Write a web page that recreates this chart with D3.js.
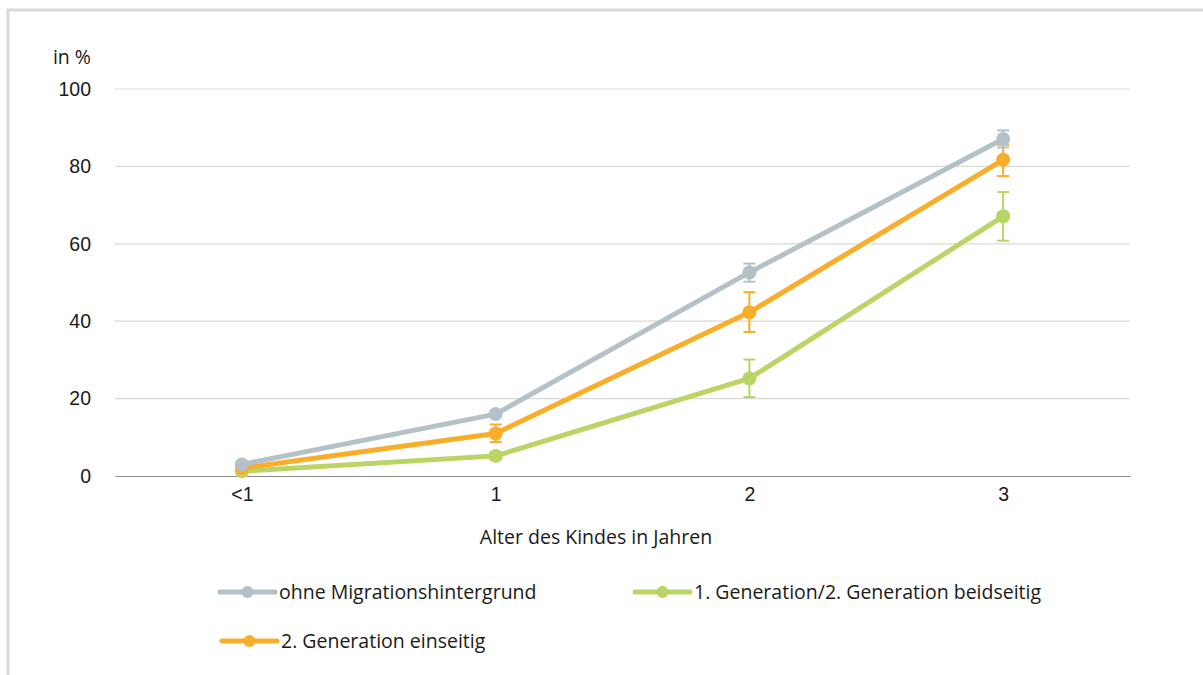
<!DOCTYPE html>
<html><head><meta charset="utf-8">
<script src="https://cdn.jsdelivr.net/npm/d3@7"></script>
<style>body{margin:0;background:#fff}svg{display:block;font-family:"Open Sans","Noto Sans",sans-serif}</style>
</head><body>
<svg id="c" width="1203" height="675"></svg>
<script>
const categories = ["<1", "1", "2", "3"];
const yTicks = [0, 20, 40, 60, 80, 100];
const seriesNames = ["ohne Migrationshintergrund", "1. Generation/2. Generation beidseitig", "2. Generation einseitig"];
const ohneValues = [3, 16, 52.6, 87.1];
const ohneLow = [2.4, 15.3, 50.2, 84.9];
const ohneHigh = [3.6, 16.7, 54.9, 89.3];
const gen1Values = [1.2, 5.2, 25.2, 67.1];
const gen1Low = [0.8, 4.2, 20.4, 60.8];
const gen1High = [1.6, 6.2, 30.1, 73.4];
const gen2Values = [2, 11, 42.3, 81.7];
const gen2Low = [1.4, 8.8, 37.2, 77.5];
const gen2High = [2.6, 13.3, 47.5, 85.6];

const colors = ["#b4c1c6", "#bad465", "#f9ae29"];
const series = [
  {name: seriesNames[0], v: ohneValues, lo: ohneLow, hi: ohneHigh, color: colors[0]},
  {name: seriesNames[1], v: gen1Values, lo: gen1Low, hi: gen1High, color: colors[1]},
  {name: seriesNames[2], v: gen2Values, lo: gen2Low, hi: gen2High, color: colors[2]}
];
const drawOrder = [series[1], series[2], series[0]];
const FS = 19.5;

const svg = d3.select("#c");
// frame
svg.append("rect").attr("x", 8).attr("y", 10).attr("width", 1300).attr("height", 800)
  .attr("fill", "none").attr("stroke", "#d9d9d9").attr("stroke-width", 3);

const x = d3.scalePoint().domain(categories).range([115, 1130]).padding(0.5);
const y = d3.scaleLinear().domain([0, 100]).range([476, 89]);

// gridlines
svg.append("g").selectAll("line").data(yTicks.filter(t => t > 0)).join("line")
  .attr("x1", 115).attr("x2", 1130).attr("y1", d => y(d)).attr("y2", d => y(d))
  .attr("stroke", "#d9d9d9").attr("stroke-width", 1.2);

// y axis labels
const yAxis = svg.append("g").attr("transform", "translate(91,0)")
  .call(d3.axisLeft(y).tickValues(yTicks).tickSize(0).tickPadding(0));
yAxis.select(".domain").remove();
yAxis.selectAll("text").attr("font-size", FS).attr("fill", "#1a1a1a").attr("font-family", "inherit");

svg.append("text").attr("x", 91).attr("y", 64).attr("text-anchor", "end")
  .attr("font-size", FS).attr("fill", "#1a1a1a").text("in %");

// x axis
const xAxis = svg.append("g").attr("transform", "translate(0,476)")
  .call(d3.axisBottom(x).tickSize(0).tickPadding(11));
xAxis.select(".domain").attr("stroke", "#8c8c8c").attr("stroke-width", 1.2);
xAxis.selectAll("text").attr("font-size", FS).attr("fill", "#1a1a1a").attr("font-family", "inherit");

svg.append("text").attr("x", 596).attr("y", 544).attr("text-anchor", "middle")
  .attr("font-size", FS).attr("fill", "#1a1a1a").text("Alter des Kindes in Jahren");

const line = d3.line().x((d, i) => x(categories[i])).y(d => y(d));

drawOrder.forEach(s => {
  const g = svg.append("g");
  g.append("path").attr("d", line(s.v)).attr("fill", "none").attr("stroke", s.color)
    .attr("stroke-width", 5).attr("stroke-linejoin", "round");
  s.v.forEach((v, i) => {
    const cx = x(categories[i]);
    g.append("line").attr("x1", cx).attr("x2", cx).attr("y1", y(s.lo[i])).attr("y2", y(s.hi[i]))
      .attr("stroke", s.color).attr("stroke-width", 2);
    [s.lo[i], s.hi[i]].forEach(e => {
      g.append("line").attr("x1", cx - 6).attr("x2", cx + 6).attr("y1", y(e)).attr("y2", y(e))
        .attr("stroke", s.color).attr("stroke-width", 2);
    });
    g.append("circle").attr("cx", cx).attr("cy", y(v)).attr("r", 7).attr("fill", s.color);
  });
});

// legend
const legendPos = [[220, 592], [635, 592], [222, 641]];
series.forEach((s, i) => {
  const [lx, ly] = legendPos[i];
  const g = svg.append("g").attr("transform", `translate(${lx},${ly})`);
  g.append("line").attr("x1", 0).attr("x2", 55).attr("y1", 0).attr("y2", 0)
    .attr("stroke", s.color).attr("stroke-width", 5).attr("stroke-linecap", "round");
  g.append("circle").attr("cx", 27.5).attr("cy", 0).attr("r", 6).attr("fill", s.color);
  g.append("text").attr("x", 59).attr("y", 7).attr("font-size", FS).attr("fill", "#1a1a1a").text(s.name);
});
</script>
</body></html>
